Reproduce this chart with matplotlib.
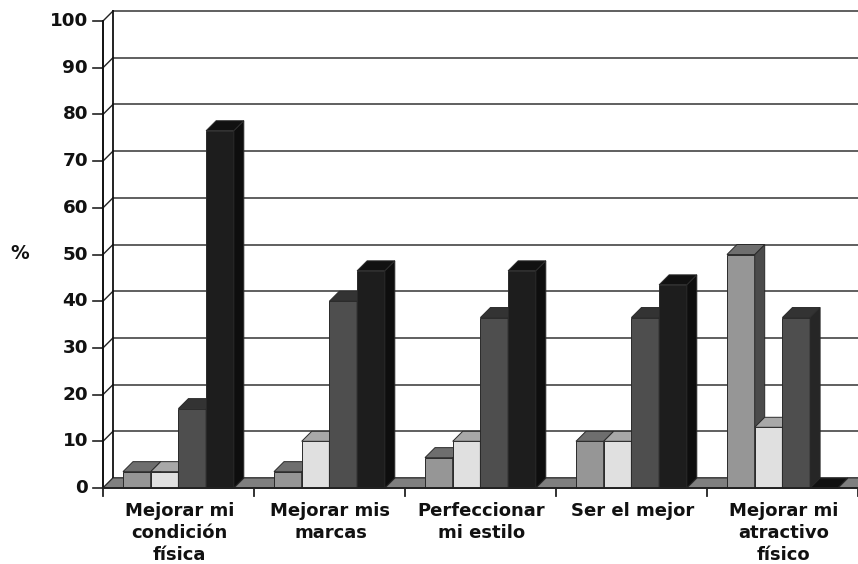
import matplotlib
matplotlib.use("Agg")
import matplotlib.pyplot as plt
from matplotlib.patches import Polygon

categories = ["Mejorar mi\ncondición\nfísica", "Mejorar mis\nmarcas", "Perfeccionar\nmi estilo",
              "Ser el mejor", "Mejorar mi\natractivo\nfísico"]
serie_a = [3.5, 3.5, 6.5, 10, 50]
serie_b = [3.5, 10, 10, 10, 13]
serie_c = [17, 40, 36.5, 36.5, 36.5]
serie_d = [76.5, 46.5, 46.5, 43.5, 0]
y_ticks = list(range(0, 101, 10))

W, H = 858, 564
fig = plt.figure(figsize=(W / 100, H / 100), dpi=100, facecolor="white")
ax = fig.add_axes([103 / W, (H - 488) / H, (W - 103) / W, 467 / H])
ax.set_xlim(0, 5)
ax.set_ylim(0, 100)
ax.axis("off")

PX_X = 151.0
PX_Y = 4.67
DX = 10 / PX_X
DY = 10 / PX_Y
START = 20.0 / PX_X
BW = 27.7 / PX_X
LINE = "#2a2a2a"
FONT = dict(family="DejaVu Sans", weight="bold", color="#111111")

# front, top, side
styles = [("#969696", "#6e6e6e", "#4b4b4b"),
          ("#e0e0e0", "#a8a8a8", "#707070"),
          ("#4e4e4e", "#333333", "#262626"),
          ("#1d1d1d", "#111111", "#0e0e0e")]
series = [serie_a, serie_b, serie_c, serie_d]


def poly(pts, color, z):
    ax.add_patch(Polygon(pts, closed=True, facecolor=color, edgecolor=LINE, linewidth=0.7,
                         zorder=z, clip_on=False))


# back wall and grid
for v in y_ticks:
    ax.plot([DX, 5], [v + DY, v + DY], color="#444444", lw=1.2, zorder=1, clip_on=False)
    ax.plot([0, DX], [v, v + DY], color="#222222", lw=1.0, zorder=1, clip_on=False)
    ax.plot([-10 / PX_X, 0], [v, v], color="#222222", lw=1.2, zorder=1, clip_on=False)
    ax.text(-15 / PX_X, v, str(v), ha="right", va="center", fontsize=13.2, **FONT)
ax.plot([DX, DX], [DY, 100 + DY], color="#111111", lw=1.3, zorder=1, clip_on=False)

# floor between the groups
for k in range(6):
    x0 = (k - 1) + START + 4 * BW
    x1 = k + START
    x0 = max(x0, 0)
    x1 = min(x1, 5)
    poly([(x0, 0), (x1, 0), (x1 + DX, DY), (x0 + DX, DY)], "#7f7f7f", 2)

# bars
z = 3
for g in range(len(categories)):
    for s, vals in enumerate(series):
        v = vals[g]
        x = g + START + s * BW
        front, top, side = styles[s]
        ax.bar(x, v, width=BW, align="edge", color=front, edgecolor=LINE, linewidth=0.7,
               zorder=z, clip_on=False)
        poly([(x + BW, 0), (x + BW + DX, DY), (x + BW + DX, v + DY), (x + BW, v)], side, z)
        poly([(x, v), (x + BW, v), (x + BW + DX, v + DY), (x + DX, v + DY)], top, z)
        z += 1

# axes
ax.plot([0, 0], [0, 100], color="#111111", lw=1.4, zorder=60, clip_on=False)
ax.plot([0, 5], [0, 0], color="#222222", lw=1.4, zorder=60, clip_on=False)
for k in range(6):
    ax.plot([k, k], [0, -8 / PX_Y], color="#222222", lw=1.3, zorder=60, clip_on=False)

for k, label in enumerate(categories):
    ax.text(k + 0.5 + 1 / PX_X, -14 / PX_Y, label, ha="center", va="top", fontsize=13,
            linespacing=1.3, clip_on=False, **FONT)

fig.text(20 / W, 1 - 253 / H, "%", ha="center", va="center", fontsize=13.5, **FONT)
fig.savefig("out.png", dpi=100, facecolor="white")
